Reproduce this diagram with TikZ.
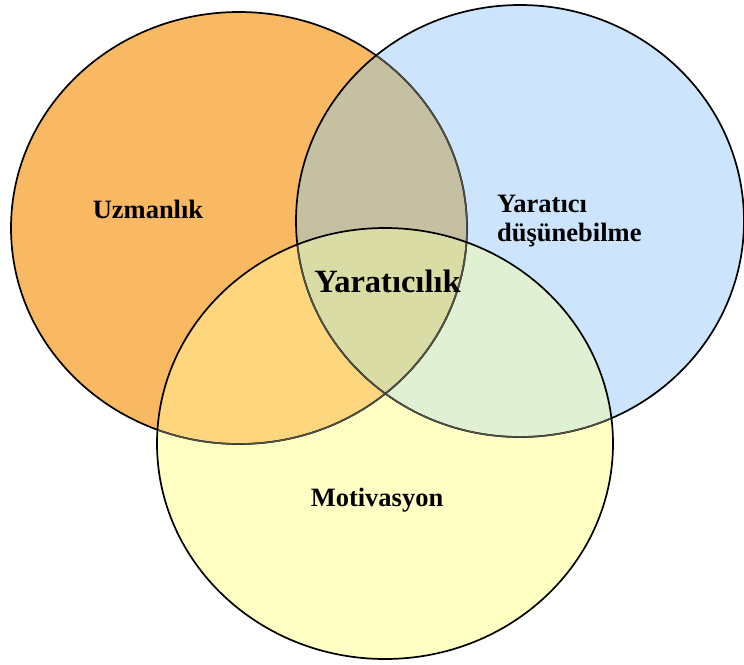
\documentclass[tikz,border=0pt]{standalone}
\usepackage{fontspec}
\setmainfont{Liberation Serif}
\definecolor{orng}{RGB}{249,184,98}
\definecolor{blu}{RGB}{204,228,252}
\definecolor{yel}{RGB}{255,255,196}
\definecolor{ob}{RGB}{198,192,162}
\definecolor{oy}{RGB}{253,214,125}
\definecolor{by}{RGB}{224,240,210}
\definecolor{oby}{RGB}{218,220,165}
\definecolor{edgegray}{RGB}{80,80,70}
\tikzset{
  lbl/.style={font=\fontsize{26.5}{31}\selectfont\bfseries, inner sep=0pt},
  biglbl/.style={font=\fontsize{32.5}{38}\selectfont\bfseries, inner sep=0pt},
  rim/.style={line width=1.7pt, draw=black},
  rimin/.style={line width=1.5pt, draw=edgegray}
}
\newcommand{\Opath}{(239,228) ellipse [x radius=228, y radius=216]}
\newcommand{\Bpath}{(520,221) ellipse [x radius=224, y radius=216]}
\newcommand{\Ypath}{(385,443.5) ellipse [x radius=228, y radius=215.5]}
\begin{document}
\begin{tikzpicture}[x=1pt,y=-1pt]
\useasboundingbox (0,0) rectangle (744,664);
% base fills
\fill[orng] \Opath;
\fill[blu] \Bpath;
\fill[yel] \Ypath;
% overlaps
\begin{scope}\clip \Opath; \fill[ob] \Bpath; \end{scope}
\begin{scope}\clip \Opath; \fill[oy] \Ypath; \end{scope}
\begin{scope}\clip \Bpath; \fill[by] \Ypath; \end{scope}
\begin{scope}\clip \Opath; \clip \Bpath; \fill[oby] \Ypath; \end{scope}
% outlines
\draw[rim] \Opath;
\begin{scope}\clip \Bpath; \draw[rimin] \Opath; \end{scope}
\begin{scope}\clip \Ypath; \draw[rimin] \Opath; \end{scope}
\draw[rim] \Bpath;
\begin{scope}\clip \Ypath; \draw[rimin] \Bpath; \end{scope}
\draw[rim] \Ypath;
% labels
\node[lbl, anchor=base] (uz) at (148,218) {Uzmanlık};
\node[lbl, anchor=base west] (yd1) at (497,212) {Yaratıcı};
\node[lbl, anchor=base west] (yd2) at (497,241.7) {düşünebilme};
\node[biglbl, anchor=base] (yc) at (387.5,292.5) {Yaratıcılık};
\node[lbl, anchor=base] (mo) at (377,506.5) {Motivasyon};
\end{tikzpicture}
\end{document}
